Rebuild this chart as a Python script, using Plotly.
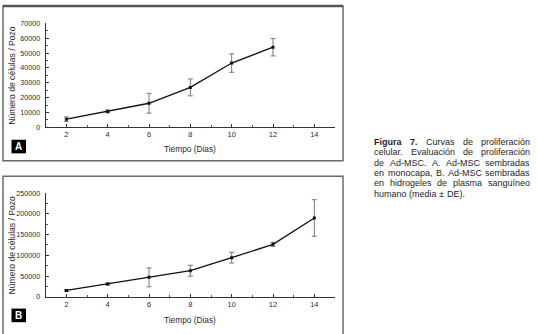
import plotly.graph_objects as go

# ---------------- data ----------------
days_a = [2, 4, 6, 8, 10, 12]
cells_a = [5500, 10700, 16200, 26900, 43300, 54000]
sd_a = [1500, 1000, 6700, 5700, 6200, 5900]

days_b = [2, 4, 6, 8, 10, 12, 14]
cells_b = [15600, 31000, 47000, 63000, 94500, 126500, 190000]
sd_b = [2000, 2500, 22700, 13200, 13000, 5000, 44000]

x_ticks = [2, 4, 6, 8, 10, 12, 14]
y_title = "Número de células / Pozo"
x_title = "Tiempo (Dias)"
caption_lines = [
    ["<b>Figura</b>", "<b>7.</b>", "Curvas", "de", "proliferación"],
    ["celular.", "Evaluación", "de", "proliferación"],
    ["de", "Ad-MSC.", "A.", "Ad-MSC", "sembradas"],
    ["en", "monocapa,", "B.", "Ad-MSC", "sembradas"],
    ["en", "hidrogeles", "de", "plasma", "sanguíneo"],
    ["humano", "(media", "±", "DE)."],
]

W, H = 538, 334
def px(x): return x / W
def py(y): return 1 - y / H

FONT = "Liberation Sans, Arial, sans-serif"
TXT = "#2a2a2a"

fig = go.Figure()

line_style = dict(color="#111", width=1.3)
err_style = dict(type="data", thickness=1, width=2.5, color="#777")
fig.add_trace(go.Scatter(x=days_a, y=cells_a, mode="lines+markers", line=line_style,
                         marker=dict(symbol="square", size=3, color="#111"),
                         error_y=dict(array=sd_a, **err_style), xaxis="x", yaxis="y",
                         showlegend=False, hoverinfo="skip"))
fig.add_trace(go.Scatter(x=days_b, y=cells_b, mode="lines+markers", line=line_style,
                         marker=dict(symbol="square", size=3, color="#111"),
                         error_y=dict(array=sd_b, **err_style), xaxis="x2", yaxis="y2",
                         showlegend=False, hoverinfo="skip"))

xdom = [px(45.7), px(335)]
common_x = dict(range=[1, 15], tickvals=x_ticks, ticks="inside", ticklen=3, tickcolor="#333",
                showline=True, linecolor="#333", linewidth=1, showgrid=False, zeroline=False,
                tickfont=dict(family=FONT, size=7.5, color=TXT),
                minor=dict(ticks="inside", ticklen=2, dtick=1, tick0=1, tickcolor="#555"),
                domain=xdom, fixedrange=True)
common_y = dict(ticks="inside", ticklen=3, tickcolor="#333", showline=True, linecolor="#333",
                linewidth=1, showgrid=False, zeroline=False, tickformat="d",
                tickfont=dict(family=FONT, size=7.2, color=TXT), ticklabelstandoff=3)

fig.update_layout(
    width=W, height=H, margin=dict(l=0, r=0, t=0, b=0),
    paper_bgcolor="white", plot_bgcolor="white",
    xaxis=dict(anchor="y", **common_x),
    yaxis=dict(anchor="x", domain=[py(126.7), py(20)], range=[0, 70000], dtick=10000,
               minor=dict(ticks="inside", ticklen=2, dtick=5000, tickcolor="#555"), **common_y),
    xaxis2=dict(anchor="y2", **common_x),
    yaxis2=dict(anchor="x2", domain=[py(301), py(194.3)], range=[0, 250000], dtick=50000,
                minor=dict(ticks="inside", ticklen=2, dtick=25000, tickcolor="#555"), **common_y),
)

shapes = []
# panel frames
shapes.append(dict(type="rect", xref="paper", yref="paper", x0=px(3), x1=px(343), y0=py(161), y1=py(2),
                   line=dict(color="#6a6a6a", width=1.5)))
shapes.append(dict(type="line", xref="paper", yref="paper", x0=px(3), x1=px(343), y0=py(2), y1=py(2),
                   line=dict(color="#555", width=2.5)))
shapes.append(dict(type="rect", xref="paper", yref="paper", x0=px(3), x1=px(343), y0=py(340), y1=py(177),
                   line=dict(color="#6a6a6a", width=1.5)))
# panel letter boxes
for (x0, y0, letter) in [(11.5, 139.5, "A"), (11.5, 313, "B")]:
    shapes.append(dict(type="rect", xref="paper", yref="paper", x0=px(x0), x1=px(x0 + 14.5),
                       y0=py(y0 + 14), y1=py(y0), fillcolor="black", line=dict(width=0)))
fig.update_layout(shapes=shapes)

ann = []
for (y0, letter) in [(139.5, "A"), (313, "B")]:
    ann.append(dict(x=px(18.8), y=py(y0 + 7), xref="paper", yref="paper", text=f"<b>{letter}</b>",
                    showarrow=False, font=dict(family=FONT, size=10, color="white"),
                    xanchor="center", yanchor="middle"))
# axis titles
for yc, xt in [(73.3, 149), (247.7, 325)]:
    ann.append(dict(x=px(12.5), y=py(yc), xref="paper", yref="paper", text=y_title, textangle=-90,
                    showarrow=False, font=dict(family=FONT, size=8.6, color=TXT),
                    xanchor="center", yanchor="middle"))
    ann.append(dict(x=px(190), y=py(xt), xref="paper", yref="paper", text=x_title,
                    showarrow=False, font=dict(family=FONT, size=8.3, color=TXT),
                    xanchor="center", yanchor="middle"))

# caption with justified lines (word widths estimated from Arial metrics)
REG = {' ': 278, '.': 278, ',': 278, '-': 333, '(': 333, ')': 333, '±': 584, '7': 556,
       'a': 556, 'b': 556, 'c': 500, 'd': 556, 'e': 556, 'f': 278, 'g': 556, 'h': 556, 'i': 222,
       'l': 222, 'm': 833, 'n': 556, 'o': 556, 'p': 556, 'r': 333, 's': 500, 't': 278, 'u': 556,
       'v': 500, 'í': 278, 'ó': 556, 'A': 667, 'B': 667, 'C': 722, 'D': 722, 'E': 667, 'F': 611,
       'M': 833, 'S': 667}
BOLD = {'F': 611, 'i': 278, 'g': 611, 'u': 611, 'r': 389, 'a': 556, '7': 556, '.': 278}
CAP_SIZE = 9
def word_width(w):
    if w.startswith("<b>"):
        core = w[3:-4]
        return sum(BOLD.get(c, 600) for c in core) / 1000 * CAP_SIZE
    return sum(REG.get(c, 556) for c in w) / 1000 * CAP_SIZE

cap_x0, cap_x1 = 374, 530
cap_y0, cap_dy = 141.7, 10.66
for i, words in enumerate(caption_lines):
    yline = cap_y0 + i * cap_dy
    widths = [word_width(w) for w in words]
    last = i == len(caption_lines) - 1
    if last:
        gap = 0.278 * CAP_SIZE
    else:
        gap = (cap_x1 - cap_x0 - sum(widths)) / (len(words) - 1)
    x = cap_x0
    for j, (w, wd) in enumerate(zip(words, widths)):
        if not last and j == len(words) - 1:
            xa, xanc = cap_x1, "right"
        else:
            xa, xanc = x, "left"
        ann.append(dict(x=px(xa), y=py(yline), xref="paper", yref="paper", text=w,
                        showarrow=False, font=dict(family=FONT, size=CAP_SIZE, color="#1e1e1e"),
                        xanchor=xanc, yanchor="middle", borderpad=0, borderwidth=0))
        x += wd + gap
fig.update_layout(annotations=ann)

fig.write_html("out.html", config={"displayModeBar": False},
               post_script="document.body.style.margin='0';document.body.style.overflow='hidden';")
